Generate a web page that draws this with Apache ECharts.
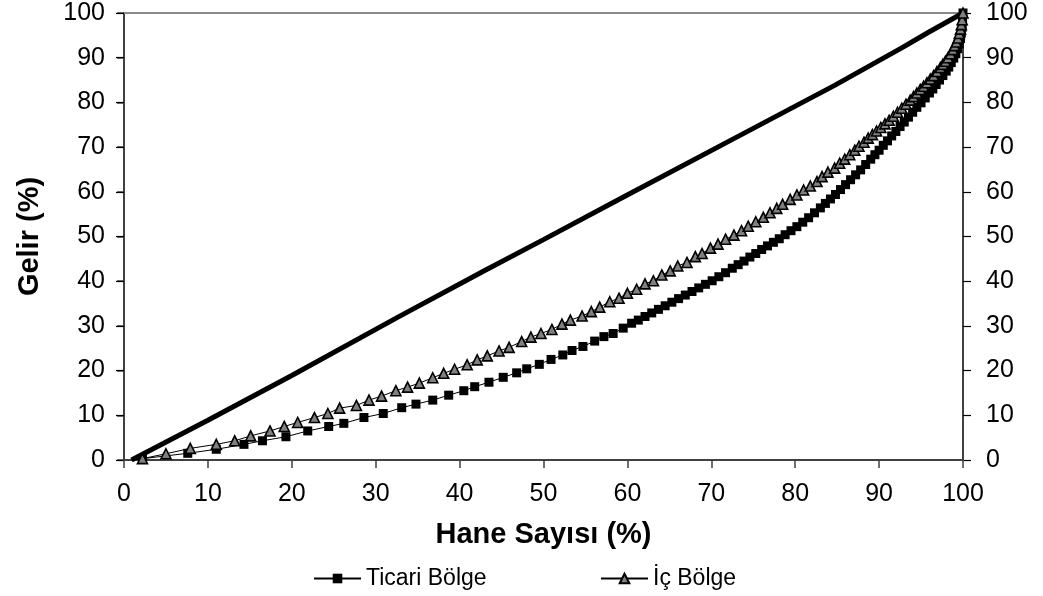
<!DOCTYPE html>
<html><head><meta charset="utf-8">
<script src="https://cdn.jsdelivr.net/npm/echarts@6/dist/echarts.min.js"></script>
<style>html,body{margin:0;padding:0;background:#fff}#c{width:1043px;height:596px}</style>
</head><body><div id="c"></div>
<script>
// ---- data ----
const seriesNames = ['Ticari Bölge', 'İç Bölge'];
const xAxisName = 'Hane Sayısı (%)';
const yAxisName = 'Gelir (%)';
const axisMin = 0, axisMax = 100, axisStep = 10;

const equalityLine = [[0.9,0],[10,8.9],[20,18.9],[32.6,31.9],[43,42.4],[50,49.3],[59.7,59.0],[72.8,72.0],[84.7,83.8],[92.7,92.2],[96,95.8],[100,100]];

const ticari = [[2.2,0.3],[7.6,1.5],[11.0,2.4],[14.3,3.5],[16.5,4.3],[19.3,5.2],[21.9,6.5],[24.4,7.5],[26.2,8.2],[28.6,9.5],[30.9,10.4],
[33.1,11.7],[34.8,12.5],[36.8,13.4],[38.7,14.5],[40.5,15.5],[41.8,16.4],[43.5,17.4],[45.2,18.5],[46.8,19.5],[48.0,20.4],[49.5,21.4],
[50.9,22.5],[52.3,23.5],[53.4,24.5],[54.7,25.4],[56.1,26.6],[57.2,27.6],[58.3,28.3],[59.5,29.5],[60.5,30.6],
[61.3,31.3],[62.1,32.1],[62.9,32.9],[63.7,33.7],[64.5,34.5],[65.3,35.3],[66.1,36.1],[66.9,36.9],[67.7,37.7],[68.5,38.5],[69.3,39.3],
[70.1,40.1],[70.9,41.0],[71.7,41.9],[72.5,42.9],[73.2,43.7],[73.9,44.5],[74.6,45.4],[75.3,46.2],[76.0,47.1],[76.7,47.9],[77.4,48.7],
[78.1,49.5],[78.8,50.4],[79.5,51.3],[80.2,52.2],[80.9,53.2],[81.6,54.2],[82.3,55.3],[83.0,56.4],[83.6,57.4],[84.2,58.4],[84.8,59.4],
[85.4,60.5],[86.0,61.6],[86.6,62.7],[87.2,63.8],[87.8,64.9],[88.4,66.1],[89.0,67.3],[89.5,68.3],[90.0,69.3],[90.5,70.4],[91.0,71.4],
[91.5,72.5],[92.0,73.5],[92.5,74.6],[93.0,75.6],[93.5,76.7],[94.0,77.8],[94.5,78.9],[95.0,79.9],[95.5,81.0],[96.0,82.1],[96.4,83.0],
[96.8,84.0],[97.2,85.0],[97.6,86.0],[98.0,87.0],[98.3,87.9],[98.6,88.9],[98.9,89.9],[99.15,90.9],[99.35,92.0],[99.55,93.1],[99.7,94.3],
[99.8,95.5],[99.9,96.8],[99.95,98.1],[100,100]];

const icBolge = [[2.2,0.3],[5.0,1.4],[7.9,2.6],[11.0,3.5],[13.2,4.3],[15.1,5.4],[17.4,6.5],[19.1,7.5],[20.7,8.4],[22.7,9.5],[24.3,10.4],
[25.7,11.6],[27.7,12.2],[29.2,13.4],[30.7,14.3],[32.4,15.5],[33.8,16.3],[35.2,17.2],[36.8,18.4],[38.1,19.4],[39.4,20.3],[40.9,21.3],
[42.1,22.4],[43.3,23.3],[44.7,24.4],[45.9,25.2],[47.4,26.5],[48.5,27.5],[49.7,28.3],[51.0,29.2],[52.2,30.4],[53.2,31.3],[54.6,32.2],
[55.7,33.2],[56.7,34.2],[57.9,35.4],[59.0,36.2],[60.0,37.3],[61.1,38.2],[62.1,39.4],[63.1,40.1],[64.1,41.4],[65.1,42.3],[66.0,43.4],
[67.1,44.2],[68.1,45.5],[68.9,46.2],[69.9,47.4],[70.8,48.3],[71.7,49.4],[72.7,50.3],[73.6,51.3],[74.4,52.3],[75.3,53.3],[76.2,54.3],
[77.0,55.3],[77.8,56.3],[78.5,57.2],[79.4,58.3],[80.2,59.3],[81.0,60.4],[81.8,61.3],[82.6,62.3],[83.2,63.4],[83.9,64.4],[84.7,65.3],
[85.3,66.4],[85.9,67.3],[86.5,68.3],[87.1,69.3],[87.6,70.2],[88.2,71.1],[88.7,72.0],[89.2,72.8],[89.7,73.6],[90.2,74.4],[90.7,75.2],
[91.2,76.0],[91.7,76.9],[92.2,77.8],[92.7,78.7],[93.2,79.6],[93.7,80.5],[94.1,81.3],[94.5,82.1],[94.9,82.9],[95.3,83.6],[95.7,84.4],
[96.1,85.2],[96.5,86.0],[96.9,86.9],[97.3,87.8],[97.6,88.5],[97.9,89.2],[98.2,90.0],[98.5,90.9],[98.8,91.8],[99.0,92.7],[99.2,93.5],
[99.4,94.4],[99.55,95.4],[99.7,96.4],[99.8,97.4],[99.9,98.5],[100,100]];

// ---- chart ----
const FONT = 'Liberation Sans, Arial, sans-serif';
const chart = echarts.init(document.getElementById('c'), null, {renderer: 'canvas'});
const valAxisBase = {type: 'value', min: axisMin, max: axisMax, interval: axisStep, splitLine: {show: false}};

chart.setOption({
  animation: false,
  backgroundColor: '#fff',
  textStyle: {fontFamily: FONT},
  grid: {left: 124, right: 80, top: 13, bottom: 136, containLabel: false},
  legend: [
    {left: 308, top: 562, data: [seriesNames[0]], itemWidth: 47, itemHeight: 12,
     textStyle: {fontSize: 23, color: '#000', fontFamily: FONT}},
    {left: 595, top: 562, data: [seriesNames[1]], itemWidth: 47, itemHeight: 12,
     textStyle: {fontSize: 23, color: '#000', fontFamily: FONT}}
  ],
  xAxis: [
    Object.assign({}, valAxisBase, {
      position: 'bottom',
      name: xAxisName, nameLocation: 'middle', nameGap: 60,
      nameTextStyle: {fontSize: 29, fontWeight: 'bold', color: '#000', fontFamily: FONT},
      axisLine: {onZero: false, lineStyle: {color: '#404040', width: 2}},
      axisTick: {length: 8, lineStyle: {color: '#404040', width: 1.5}},
      axisLabel: {fontSize: 25, color: '#000', margin: 22, fontFamily: FONT}
    }),
    Object.assign({}, valAxisBase, {
      position: 'top',
      axisLine: {onZero: false, lineStyle: {color: '#8a8a8a', width: 2}},
      axisTick: {show: false}, axisLabel: {show: false}
    })
  ],
  yAxis: [
    Object.assign({}, valAxisBase, {
      position: 'left',
      name: yAxisName, nameLocation: 'middle', nameGap: 80, nameRotate: 90,
      nameTextStyle: {fontSize: 29, fontWeight: 'bold', color: '#000', fontFamily: FONT},
      axisLine: {show: true, onZero: false, lineStyle: {color: '#404040', width: 2}},
      axisTick: {show: true, length: 7, lineStyle: {color: '#404040', width: 1.5}},
      axisLabel: {fontSize: 25, color: '#000', margin: 19, fontFamily: FONT}
    }),
    Object.assign({}, valAxisBase, {
      position: 'right',
      axisLine: {show: true, onZero: false, lineStyle: {color: '#000', width: 1.5}},
      axisTick: {show: true, length: 8, lineStyle: {color: '#000', width: 1.2}},
      axisLabel: {fontSize: 25, color: '#000', margin: 23, fontFamily: FONT}
    }),
    Object.assign({}, valAxisBase, {
      position: 'right',
      axisLine: {show: false},
      axisTick: {show: true, inside: true, length: 8, lineStyle: {color: '#000', width: 1.2}},
      axisLabel: {show: false}
    })
  ],
  series: [
    {name: 'Eşitlik', type: 'line', data: equalityLine, showSymbol: false, symbol: 'none',
     lineStyle: {color: '#000', width: 5}, z: 1},
    {name: seriesNames[0], type: 'line', data: ticari, symbol: 'rect', symbolSize: 9,
     itemStyle: {color: '#000', borderColor: '#000', borderWidth: 0},
     lineStyle: {color: '#000', width: 1}, z: 2},
    {name: seriesNames[1], type: 'line', data: icBolge, symbol: 'triangle', symbolSize: 10,
     itemStyle: {color: '#808080', borderColor: '#000', borderWidth: 1.6},
     lineStyle: {color: '#000', width: 1}, z: 3}
  ]
});
</script>
</body></html>
